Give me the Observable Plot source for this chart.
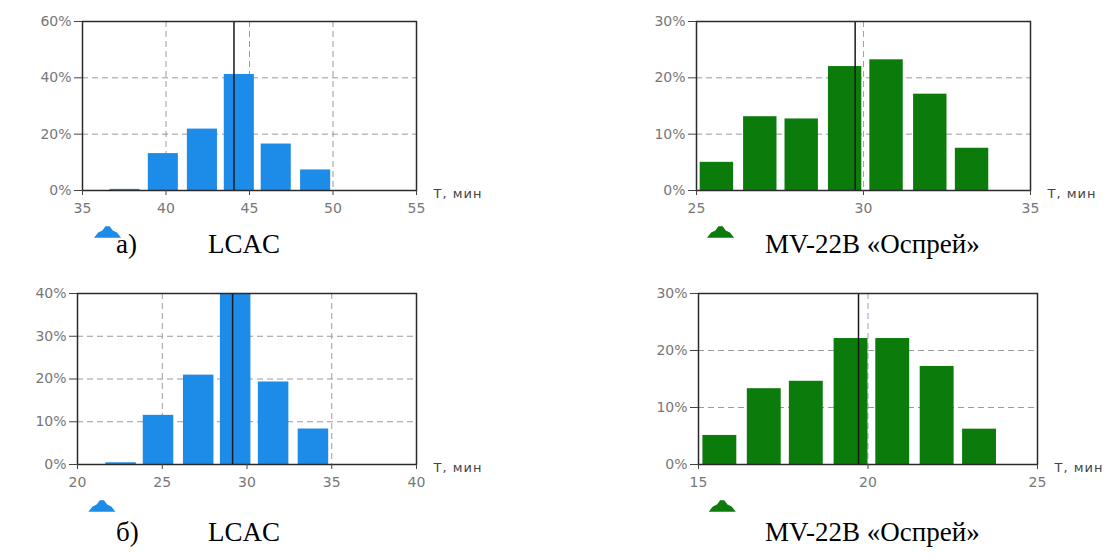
<!DOCTYPE html>
<html><head><meta charset="utf-8">
<script src="https://cdn.jsdelivr.net/npm/d3@7"></script>
<script src="https://cdn.jsdelivr.net/npm/@observablehq/plot@0.6"></script>
<style>
body{margin:0;background:#fff}
#root{position:relative;width:1116px;height:560px;overflow:hidden;background:#fff}
.panel{position:absolute}
.cap{position:absolute;font-family:"Liberation Serif","Times New Roman",serif;font-size:27px;color:#000;white-space:pre;line-height:1}
</style></head><body><div id="root"></div>
<script>
// ---- data ----
// Panel а) LCAC
const binsA = [37.54, 39.84, 42.18, 44.39, 46.6, 48.96];
const pctA  = [0.4, 13.1, 21.8, 41.2, 16.5, 7.3];
const meanA = 44.07, startA = 36.5;
const xTicksA = [35, 40, 45, 50, 55], yTicksA = [0, 20, 40, 60];
// Panel а) MV-22B
const binsB = [25.61, 26.91, 28.15, 29.45, 30.69, 32.0, 33.25];
const pctB  = [5.0, 13.1, 12.7, 22.0, 23.2, 17.1, 7.5];
const meanB = 29.75, startB = 25.72;
const xTicksB = [25, 30, 35], yTicksB = [0, 10, 20, 30];
// Panel б) LCAC
const binsC = [22.57, 24.78, 27.15, 29.33, 31.57, 33.92];
const pctC  = [0.4, 11.5, 20.9, 40.0, 19.3, 8.3];
const meanC = 29.15, startC = 21.44;
const xTicksC = [20, 25, 30, 35, 40], yTicksC = [0, 10, 20, 30, 40];
// Panel б) MV-22B
const binsD = [15.63, 16.94, 18.18, 19.5, 20.73, 22.04, 23.29];
const pctD  = [5.1, 13.3, 14.6, 22.1, 22.1, 17.2, 6.2];
const meanD = 19.72, startD = 15.7;
const xTicksD = [15, 20, 25], yTicksD = [0, 10, 20, 30];

const axisLabel = "Т, мин";
const captions = [
  {t: "а)", x: 116, y: 231}, {t: "LCAC", x: 208, y: 231}, {t: "MV-22B «Оспрей»", x: 765, y: 231},
  {t: "б)", x: 116, y: 519}, {t: "LCAC", x: 208, y: 519}, {t: "MV-22B «Оспрей»", x: 765, y: 519}
];

// ---- layout / style ----
const BLUE = "#1d8be8", GREEN = "#0b7b0b";
const panels = [
  {bins: binsA, pct: pctA, mean: meanA, start: startA, xt: xTicksA, yt: yTicksA, bw: 1.8, color: BLUE,  frame: [82, 416, 21, 190], gx: "#9a9a9a"},
  {bins: binsB, pct: pctB, mean: meanB, start: startB, xt: xTicksB, yt: yTicksB, bw: 1.0, color: GREEN, frame: [696, 1030, 21, 190], gx: "#a49cc4"},
  {bins: binsC, pct: pctC, mean: meanC, start: startC, xt: xTicksC, yt: yTicksC, bw: 1.8, color: BLUE,  frame: [77, 416, 293, 464], gx: "#9a9a9a"},
  {bins: binsD, pct: pctD, mean: meanD, start: startD, xt: xTicksD, yt: yTicksD, bw: 1.0, color: GREEN, frame: [698, 1037, 293, 464], gx: "#a49cc4"}
];

// small stepped "mound" marker drawn under the axis
const mound = {
  draw(ctx, size) {
    const s = Math.sqrt(size) / 8;
    ctx.moveTo(-13 * s, 5 * s);
    ctx.lineTo(13 * s, 5 * s);
    ctx.lineTo(9 * s, 0);
    ctx.lineTo(5 * s, -2 * s);
    ctx.lineTo(2 * s, -6 * s);
    ctx.lineTo(-2 * s, -6 * s);
    ctx.lineTo(-5 * s, -2 * s);
    ctx.lineTo(-9 * s, 0);
    ctx.closePath();
  }
};

const root = document.getElementById("root");
const mL = 80, mR = 95, mT = 12, mB = 62;

for (const p of panels) {
  const [fl, fr, ft, fb] = p.frame;
  const data = p.bins.map((c, i) => ({c, v: p.pct[i]}));
  const xd = [p.xt[0], p.xt[p.xt.length - 1]];
  const yd = [p.yt[0], p.yt[p.yt.length - 1]];
  const chart = Plot.plot({
    width: mL + (fr - fl) + mR,
    height: mT + (fb - ft) + mB,
    marginLeft: mL, marginRight: mR, marginTop: mT, marginBottom: mB,
    style: {background: "transparent", fontFamily: "'DejaVu Sans', Verdana, sans-serif", overflow: "visible"},
    x: {domain: xd, label: null},
    y: {domain: yd, label: null},
    marks: [
      Plot.gridY({ticks: p.yt.slice(1, -1), stroke: "#9a9a9a", strokeOpacity: 1, strokeDasharray: "6,4"}),
      Plot.gridX({ticks: p.xt.slice(1, -1), stroke: p.gx, strokeOpacity: 1, strokeDasharray: "6,4"}),
      Plot.rectY(data, {x1: d => d.c - p.bw / 2, x2: d => d.c + p.bw / 2, y1: 0, y2: "v", fill: p.color, clip: true}),
      Plot.ruleX([p.mean], {stroke: "#1a1a1a", strokeWidth: 1.5}),
      Plot.frame({stroke: "#2a2a2a", strokeWidth: 1.5}),
      Plot.axisY({ticks: p.yt, tickFormat: d => d + "%", tickSize: 8, tickPadding: 3, fontSize: 14, fill: "#777", stroke: "#444", label: null}),
      Plot.axisX({ticks: p.xt, tickSize: 5, tickPadding: 8, fontSize: 14, fill: "#777", stroke: "#444", label: null}),
      Plot.text([axisLabel], {x: xd[1], y: yd[0], text: d => d, dx: 17, dy: 3, textAnchor: "start", fontSize: 13, fill: "#444"}),
      Plot.dot([p.start], {x: d => d, y: yd[0], dy: 42, symbol: mound, r: 4.7, fill: p.color, stroke: "none"})
    ]
  });
  d3.select(chart).selectAll("text").filter(function() { return this.textContent === axisLabel; })
    .style("letter-spacing", "1px");
  chart.classList.add("panel");
  chart.style.left = (fl - mL) + "px";
  chart.style.top = (ft - mT) + "px";
  root.appendChild(chart);
}

for (const c of captions) {
  const d = document.createElement("div");
  d.className = "cap";
  d.textContent = c.t;
  d.style.left = c.x + "px";
  d.style.top = c.y + "px";
  root.appendChild(d);
}
</script></body></html>
